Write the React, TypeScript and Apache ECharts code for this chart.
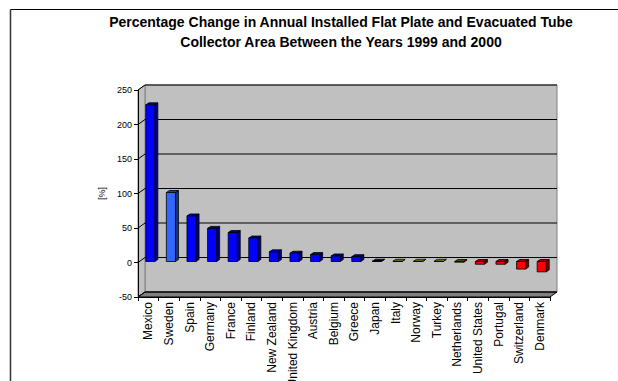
import React, { useEffect, useRef } from "react";
import * as echarts from "echarts";

// Percentage change 1999 -> 2000, per country
const countries = [
  "Mexico", "Sweden", "Spain", "Germany", "France", "Finland", "New Zealand",
  "United Kingdom", "Austria", "Belgium", "Greece", "Japan", "Italy", "Norway",
  "Turkey", "Netherlands", "United States", "Portugal", "Switzerland", "Denmark",
];
const changes = [227, 100, 66, 48, 42, 34, 14, 12, 10, 8, 7, 0.4, 0.3, 0.3, 0.3, -1, -4, -4, -11, -15];
const barColors = [
  "#0000FF", "#3366FF", "#0000FF", "#0000FF", "#0000FF", "#0000FF", "#0000FF",
  "#0000FF", "#0000FF", "#0000FF", "#0000FF", "#000080", "#FFFF00", "#FFFF00",
  "#FFFF00", "#808000", "#FF0000", "#FF0000", "#FF0000", "#FF0000",
];
const yTicks = [-50, 0, 50, 100, 150, 200, 250];
const Y_MIN = -50;
const Y_MAX = 250;
const Y_STEP = 50;

const titleLines = [
  "Percentage Change in Annual Installed Flat Plate and Evacuated Tube",
  "Collector Area Between the Years 1999 and 2000",
];

// 3-D projection offsets (pixels): whole plot depth and single column depth
const DX = 7;
const DY = -5;
const BDX = 3;
const BDY = -2;

function shade(hex: string, k: number): string {
  const n = parseInt(hex.slice(1), 16);
  const r = Math.round(((n >> 16) & 255) * k);
  const g = Math.round(((n >> 8) & 255) * k);
  const b = Math.round((n & 255) * k);
  return "rgb(" + r + "," + g + "," + b + ")";
}

export default function App() {
  const ref = useRef<HTMLDivElement>(null);

  useEffect(() => {
    if (!ref.current) return;
    const chart = echarts.init(ref.current, null, { renderer: "svg" });

    const renderWalls = (_params: any, api: any) => {
      const bw = api.size([1, 0])[0];
      const xL = api.coord([0, 0])[0] - bw / 2;
      const xR = api.coord([countries.length - 1, 0])[0] + bw / 2;
      const yT = api.coord([0, Y_MAX])[1];
      const yB = api.coord([0, Y_MIN])[1];
      const children: any[] = [
        {
          type: "rect",
          shape: { x: xL + DX, y: yT + DY, width: xR - xL, height: yB - yT },
          style: { fill: "#C0C0C0", stroke: "#808080", lineWidth: 1 },
        },
        {
          type: "polygon",
          shape: { points: [[xL, yT], [xL + DX, yT + DY], [xL + DX, yB + DY], [xL, yB]] },
          style: { fill: "#C0C0C0", stroke: "#808080", lineWidth: 1 },
        },
        {
          type: "polygon",
          shape: { points: [[xL, yB], [xL + DX, yB + DY], [xR + DX, yB + DY], [xR, yB]] },
          style: { fill: "#808080", stroke: "#000000", lineWidth: 1 },
        },
      ];
      yTicks.forEach((v) => {
        const y = api.coord([0, v])[1];
        children.push({
          type: "polyline",
          shape: { points: [[xL, y], [xL + DX, y + DY], [xR + DX, y + DY]] },
          style: { stroke: "#000000", lineWidth: 1, fill: null },
        });
      });
      return { type: "group", children };
    };

    const renderBar = (params: any, api: any) => {
      const i = api.value(0);
      const v = api.value(1);
      const bw = api.size([1, 0])[0];
      const [cx, y0] = api.coord([i, 0]);
      const y1 = api.coord([i, v])[1];
      const w = bw * 0.44;
      const x0 = cx - w / 2 + 2;
      const x1 = x0 + w;
      const top = Math.min(y0, y1) - 1;
      const bot = Math.max(y0, y1) - 1;
      const c = barColors[params.dataIndex];
      const edge = { stroke: "#000000", lineWidth: 0.8, lineJoin: "round" };
      return {
        type: "group",
        children: [
          {
            type: "polygon",
            shape: { points: [[x1, top], [x1 + BDX, top + BDY], [x1 + BDX, bot + BDY], [x1, bot]] },
            style: { fill: shade(c, 0.5), ...edge },
          },
          {
            type: "polygon",
            shape: { points: [[x0, top], [x0 + BDX, top + BDY], [x1 + BDX, top + BDY], [x1, top]] },
            style: { fill: shade(c, 0.6), ...edge },
          },
          {
            type: "rect",
            shape: { x: x0, y: top, width: w, height: Math.max(bot - top, 0) },
            style: { fill: c, ...edge },
          },
        ],
      };
    };

    chart.setOption({
      animation: false,
      backgroundColor: "#FFFFFF",
      textStyle: { fontFamily: "Arial, 'Liberation Sans', sans-serif" },
      grid: {
        left: 138,
        right: 68,
        top: 90,
        bottom: 84,
        containLabel: false,
        outerBoundsMode: "none",
      },
      graphic: [
        {
          type: "line",
          shape: { x1: 10.5, y1: 9.5, x2: 618, y2: 9.5 },
          style: { stroke: "#000000", lineWidth: 1 },
        },
        {
          type: "line",
          shape: { x1: 10.5, y1: 9.5, x2: 10.5, y2: 381 },
          style: { stroke: "#333333", lineWidth: 1.5 },
        },
        {
          type: "text",
          x: 341,
          y: 22,
          style: {
            text: titleLines[0],
            textAlign: "center",
            textVerticalAlign: "middle",
            font: "bold 14px Arial, 'Liberation Sans', sans-serif",
            fill: "#000000",
          },
        },
        {
          type: "text",
          x: 341,
          y: 42,
          style: {
            text: titleLines[1],
            textAlign: "center",
            textVerticalAlign: "middle",
            font: "bold 14px Arial, 'Liberation Sans', sans-serif",
            fill: "#000000",
          },
        },
      ],
      xAxis: {
        type: "category",
        data: countries,
        boundaryGap: true,
        z: 10,
        axisLine: { onZero: false, lineStyle: { color: "#000000", width: 1 } },
        axisTick: { show: true, interval: 0, length: 4, lineStyle: { color: "#000000" } },
        axisLabel: {
          interval: 0,
          rotate: 90,
          margin: 5,
          fontSize: 12,
          color: "#000000",
          hideOverlap: false,
        },
        splitLine: { show: false },
      },
      yAxis: {
        type: "value",
        min: Y_MIN,
        max: Y_MAX,
        interval: Y_STEP,
        z: 10,
        name: "[%]",
        nameLocation: "middle",
        nameRotate: 90,
        nameGap: 25,
        nameTextStyle: { fontSize: 9, color: "#000000" },
        axisLine: { show: true, lineStyle: { color: "#000000", width: 1 } },
        axisTick: { show: true, length: 4, lineStyle: { color: "#000000" } },
        axisLabel: { fontSize: 9, color: "#000000", margin: 6 },
        splitLine: { show: false },
      },
      series: [
        {
          type: "custom",
          name: "walls",
          z: 1,
          clip: false,
          renderItem: renderWalls,
          data: [[0, 0]],
          silent: true,
        },
        {
          type: "custom",
          name: "change",
          z: 3,
          clip: false,
          renderItem: renderBar,
          data: changes.map((v, i) => [i, v]),
        },
      ],
    });

    return () => chart.dispose();
  }, []);

  return (
    <div
      ref={ref}
      style={{ position: "absolute", left: 0, top: 0, width: 618, height: 381 }}
    />
  );
}
